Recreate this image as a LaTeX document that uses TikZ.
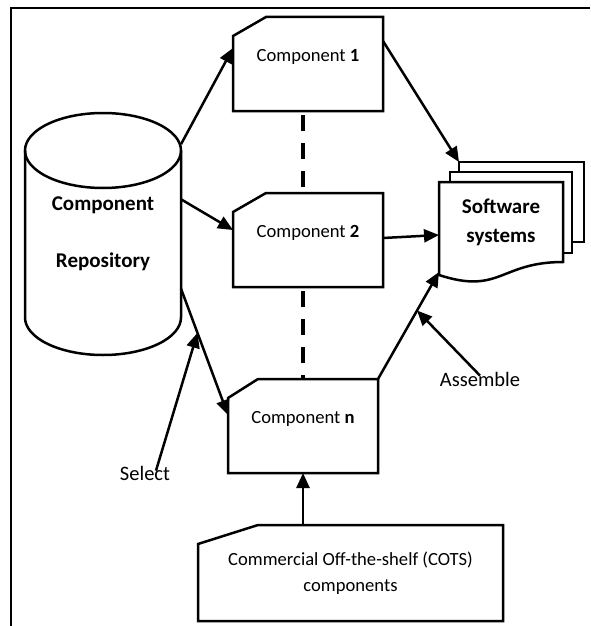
\documentclass[tikz,border=0pt]{standalone}
\usepackage{fontspec}
\setmainfont{Carlito}
\usetikzlibrary{shapes.geometric,arrows.meta,positioning,backgrounds}

\tikzstyle{comp} = [rectangle, minimum width=150pt, minimum height=94pt, outer sep=0pt, inner sep=0pt, text height=12pt, text depth=18pt, font=\fontsize{18.6}{22}\selectfont]
\tikzstyle{cots} = [rectangle, minimum width=305pt, minimum height=96pt, outer sep=0pt, align=center, font=\fontsize{18.6}{26}\selectfont]
\tikzstyle{repo} = [rectangle, minimum width=156pt, minimum height=242pt, outer sep=0pt, align=center, font=\bfseries\fontsize{21}{57}\selectfont]
\tikzstyle{page} = [rectangle, draw, line width=2.5pt, fill=white, outer sep=0pt]
\tikzstyle{swfront} = [rectangle, minimum width=124pt, minimum height=80pt, outer sep=0pt, align=center, font=\bfseries\fontsize{21}{29}\selectfont]
\tikzstyle{outline} = [draw, line width=2.5pt]
\tikzstyle{lbl} = [inner sep=0pt, font=\fontsize{20.5}{24}\selectfont]
\tikzstyle{tedge} = [draw, line width=2.5pt, -{Triangle[length=15pt,width=13pt]}]
\tikzstyle{dashline} = [draw, line width=3.5pt, dash pattern=on 16pt off 12pt, dash phase=-4pt]

% box with cut top left corner
\newcommand{\cutbox}[3]{\draw[outline] ([yshift=-#3]#1.north west) -- ([xshift=#2]#1.north west) -- (#1.north east) -- (#1.south east) -- (#1.south west) -- cycle;}

\begin{document}
\begin{tikzpicture}[x=1pt, y=-1pt]
\useasboundingbox (0,0) rectangle (590,626);

% frame
\draw[line width=2.2pt] (590,8) -| (11,626);

% repository =============================
\node[repo] (repo) at (103,234) {Component\\Repository};
\draw[outline] ([yshift=-37.5pt]repo.north) ellipse [x radius=78pt, y radius=37.5pt];
\draw[outline] ([yshift=-37.5pt]repo.north west) -- ([yshift=37.5pt]repo.south west)
  arc[start angle=180, end angle=360, x radius=78pt, y radius=37.5pt] -- ([yshift=-37.5pt]repo.north east);

% components
\node[comp] (comp1) at (308,64) {Component \textbf{1}};
\node[comp, below=82pt of comp1] (comp2) {Component \textbf{2}};
\node[comp, below=92pt of comp2, xshift=-5pt] (compn) {Component \textbf{n}};
\node[cots, below=52pt of compn, xshift=47.5pt] (cots) {Commercial Off-the-shelf (COTS)\\components};
\cutbox{comp1}{33pt}{19pt}
\cutbox{comp2}{33pt}{19pt}
\cutbox{compn}{30pt}{19pt}
\cutbox{cots}{60pt}{19pt}

% software systems
\node[swfront] (sw) at (501,222) {Software\\systems};
\begin{pgfonlayer}{background}
\node[page, minimum width=125pt, minimum height=80pt] (pg3) at (521.5,202) {};
\node[page, minimum width=122pt, minimum height=81pt] (pg2) at (511,212.5) {};
\draw[outline, fill=white] ([yshift=-13pt]sw.south west) -- (sw.north west) -- (sw.north east) -- (sw.south east)
  .. controls ([xshift=-63pt]sw.south east) and ([xshift=-63pt,yshift=-33pt]sw.south east) .. ([yshift=-13pt]sw.south west) -- cycle;
\end{pgfonlayer}

% labels
\node[lbl] (select) at (145,473) {Select};
\node[lbl] (assemble) at (480,379) {Assemble};

%edges
\path[tedge] (repo.49) -- ([yshift=16pt]comp1.west);
\path[tedge] (repo.24) -- ([yshift=10pt]comp2.west);
\path[tedge] (repo.-35) -- coordinate[pos=0.35] (selpt) ([yshift=11pt]compn.west);
\path[tedge] ([yshift=23pt]comp1.east) -- (pg3.north west);
\path[tedge] ([yshift=2pt]comp2.east) -- ([yshift=-13pt]sw.west);
\path[tedge] (compn.north east) -- coordinate[pos=0.64] (asmpt) ([yshift=-10pt]sw.south west);
\path[tedge] (cots.north -| compn.south) -- (compn.south);

\path[tedge] ([xshift=11pt,yshift=-5pt]select.north) -- (selpt);
\path[tedge] ([yshift=-4pt]assemble.north) -- (asmpt);

\path[dashline] (comp1.south -| compn.north) -- (comp2.north -| compn.north);
\path[dashline] (comp2.south -| compn.north) -- (compn.north);

\end{tikzpicture}
\end{document}
